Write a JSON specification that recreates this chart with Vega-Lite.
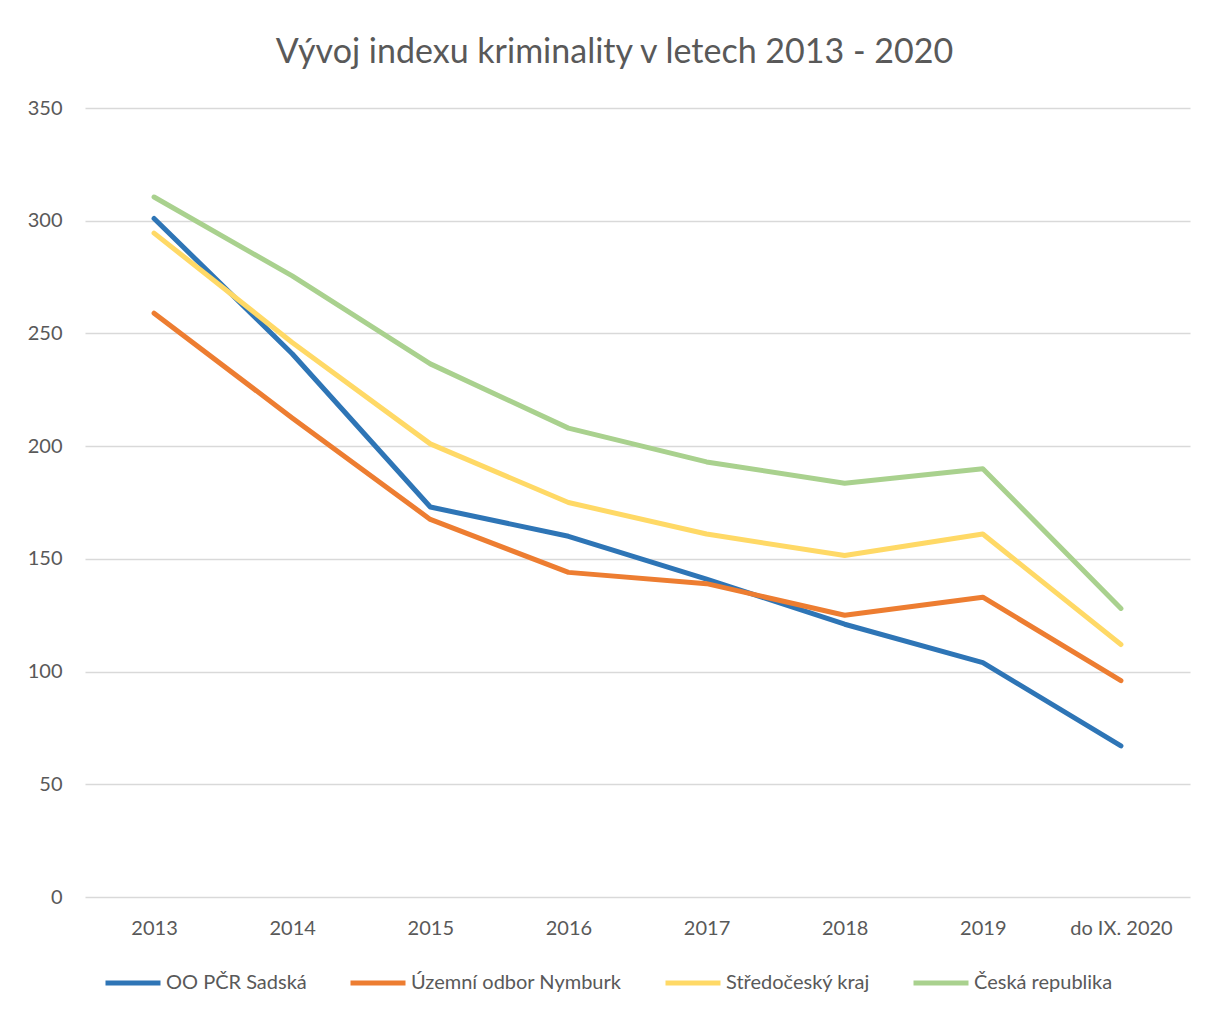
{
  "$schema": "https://vega.github.io/schema/vega-lite/v6.json",
  "autosize": "none",
  "width": 1105,
  "height": 789,
  "padding": {"left": 85, "top": 108, "right": 18, "bottom": 115},
  "background": "white",
  "title": {
    "text": "Vývoj indexu kriminality v letech 2013 - 2020",
    "font": "Lato",
    "fontSize": 34,
    "fontWeight": "normal",
    "color": "#595959",
    "anchor": "middle",
    "dx": -23,
    "offset": 28
  },
  "config": {
    "view": {"stroke": null},
    "font": "Lato"
  },
  "data": {
    "values": [
      {"rok": "2013", "serie": "OO PČR Sadská", "index": 301},
      {"rok": "2014", "serie": "OO PČR Sadská", "index": 241},
      {"rok": "2015", "serie": "OO PČR Sadská", "index": 173},
      {"rok": "2016", "serie": "OO PČR Sadská", "index": 160},
      {"rok": "2017", "serie": "OO PČR Sadská", "index": 141},
      {"rok": "2018", "serie": "OO PČR Sadská", "index": 121},
      {"rok": "2019", "serie": "OO PČR Sadská", "index": 104},
      {"rok": "do IX. 2020", "serie": "OO PČR Sadská", "index": 67},
      {"rok": "2013", "serie": "Územní odbor Nymburk", "index": 259},
      {"rok": "2014", "serie": "Územní odbor Nymburk", "index": 212.5},
      {"rok": "2015", "serie": "Územní odbor Nymburk", "index": 167.5},
      {"rok": "2016", "serie": "Územní odbor Nymburk", "index": 144},
      {"rok": "2017", "serie": "Územní odbor Nymburk", "index": 139},
      {"rok": "2018", "serie": "Územní odbor Nymburk", "index": 125},
      {"rok": "2019", "serie": "Územní odbor Nymburk", "index": 133},
      {"rok": "do IX. 2020", "serie": "Územní odbor Nymburk", "index": 96},
      {"rok": "2013", "serie": "Středočeský kraj", "index": 294.5},
      {"rok": "2014", "serie": "Středočeský kraj", "index": 246},
      {"rok": "2015", "serie": "Středočeský kraj", "index": 201},
      {"rok": "2016", "serie": "Středočeský kraj", "index": 175},
      {"rok": "2017", "serie": "Středočeský kraj", "index": 161},
      {"rok": "2018", "serie": "Středočeský kraj", "index": 151.5},
      {"rok": "2019", "serie": "Středočeský kraj", "index": 161},
      {"rok": "do IX. 2020", "serie": "Středočeský kraj", "index": 112},
      {"rok": "2013", "serie": "Česká republika", "index": 310.5},
      {"rok": "2014", "serie": "Česká republika", "index": 275.5},
      {"rok": "2015", "serie": "Česká republika", "index": 236.5},
      {"rok": "2016", "serie": "Česká republika", "index": 208},
      {"rok": "2017", "serie": "Česká republika", "index": 193},
      {"rok": "2018", "serie": "Česká republika", "index": 183.5},
      {"rok": "2019", "serie": "Česká republika", "index": 190},
      {"rok": "do IX. 2020", "serie": "Česká republika", "index": 128}
    ]
  },
  "mark": {"type": "line", "strokeWidth": 5, "strokeCap": "round", "strokeJoin": "round"},
  "encoding": {
    "x": {
      "field": "rok",
      "type": "ordinal",
      "sort": null,
      "scale": {"type": "point", "padding": 0.5},
      "axis": {
        "title": null,
        "labelAngle": 0,
        "labelFontSize": 20,
        "labelColor": "#595959",
        "labelPadding": 21,
        "ticks": false,
        "domain": false,
        "grid": false
      }
    },
    "y": {
      "field": "index",
      "type": "quantitative",
      "scale": {"domain": [0, 350]},
      "axis": {
        "title": null,
        "values": [0, 50, 100, 150, 200, 250, 300, 350],
        "labelFontSize": 20,
        "labelColor": "#595959",
        "labelPadding": 23,
        "ticks": false,
        "domain": false,
        "gridColor": "#d9d9d9",
        "gridWidth": 1.5
      }
    },
    "color": {
      "field": "serie",
      "type": "nominal",
      "sort": null,
      "scale": {
        "domain": ["OO PČR Sadská", "Územní odbor Nymburk", "Středočeský kraj", "Česká republika"],
        "range": ["#2e75b6", "#ed7d31", "#ffd966", "#a9d18e"]
      },
      "legend": {
        "title": null,
        "orient": "none",
        "direction": "horizontal",
        "legendX": 18,
        "legendY": 845,
        "symbolType": "stroke",
        "symbolSize": 3025,
        "symbolStrokeWidth": 5,
        "labelFontSize": 20,
        "labelColor": "#595959",
        "labelOffset": 3,
        "labelLimit": 400,
        "columnPadding": 33
      }
    }
  }
}
